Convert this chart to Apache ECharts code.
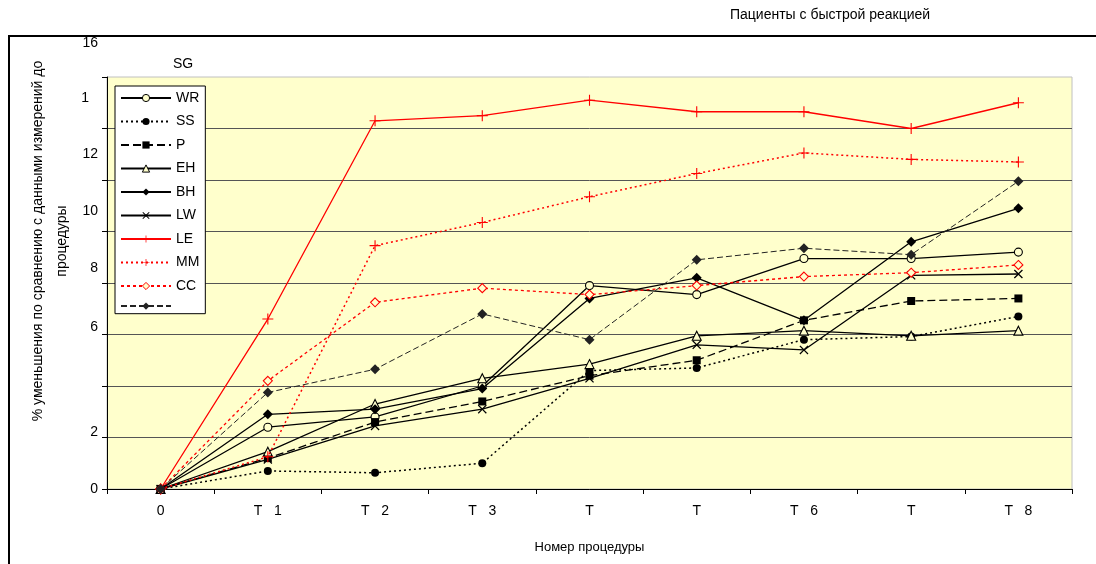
<!DOCTYPE html>
<html><head><meta charset="utf-8">
<script src="https://cdn.jsdelivr.net/npm/echarts@6/dist/echarts.min.js"></script>
<style>html,body{margin:0;padding:0;background:#fff}#c{width:1096px;height:564px}</style>
</head><body><div id="c"></div>
<script>
// ---- data ----
const categories = ['0','T1','T2','T3','T4','T5','T6','T7','T8'];
const xTickLabels = ['0','T   1','T   2','T   3','T','T','T   6','T','T   8'];
const yTickValues = [0,2,4,6,8,10,12,14,16];
const yTickLabels = ['0','2','','6','8','10','12','1','16'];
const seriesNames = ['WR','SS','P','EH','BH','LW','LE','MM','CC','SG'];
const WR = [0, 2.4, 2.8, 4.0, 7.9, 7.55, 8.95, 8.95, 9.2];
const SS = [0, 0.7, 0.63, 1.0, 4.6, 4.7, 5.8, 5.92, 6.7];
const P  = [0, 1.2, 2.6, 3.4, 4.4, 5.0, 6.55, 7.3, 7.4];
const EH = [0, 1.45, 3.3, 4.3, 4.85, 5.95, 6.15, 5.95, 6.15];
const BH = [0, 2.9, 3.1, 3.9, 7.4, 8.2, 6.55, 9.6, 10.9];
const LW = [0, 1.15, 2.45, 3.1, 4.3, 5.6, 5.4, 8.3, 8.35];
const LE = [0, 6.6, 14.3, 14.5, 15.1, 14.65, 14.65, 14.0, 15.0];
const MM = [0, 1.25, 9.45, 10.35, 11.35, 12.25, 13.05, 12.8, 12.7];
const CC = [0, 4.2, 7.25, 7.8, 7.55, 7.9, 8.25, 8.4, 8.7];
const SG = [0, 3.75, 4.65, 6.8, 5.8, 8.9, 9.35, 9.1, 11.95];
const seriesValues = [WR, SS, P, EH, BH, LW, LE, MM, CC, SG];
const titleText = 'Пациенты с быстрой реакцией';
const xAxisName = 'Номер процедуры';
const yAxisName = '% уменьшения по сравнению с данными измерений до\nпроцедуры';
const legendTitle = 'SG';

// ---- styles ----
const FONT = '"Liberation Sans", Arial, sans-serif';
const RED = '#ff0000';
const BG = '#ffffcc';
const PLUS = 'path://M4.5,0H5.5V4.5H10V5.5H5.5V10H4.5V5.5H0V4.5H4.5Z';
const CROSS = 'path://M0,1L1,0L5,4L9,0L10,1L6,5L10,9L9,10L5,6L1,10L0,9L4,5Z';
const styles = [
  {color:'#000', type:'solid', width:1.3, symbol:'circle', size:8, hollow:true},
  {color:'#000', type:[2,3], width:1.5, symbol:'circle', size:8},
  {color:'#000', type:[8,4], width:1.3, symbol:'rect', size:8},
  {color:'#000', type:'solid', width:1.3, symbol:'triangle', size:9, hollow:true},
  {color:'#000', type:'solid', width:1.3, symbol:'diamond', size:10},
  {color:'#000', type:'solid', width:1.3, symbol:CROSS, size:9},
  {color:RED, type:'solid', width:1.3, symbol:PLUS, size:11},
  {color:RED, type:[2,3], width:1.5, symbol:PLUS, size:11},
  {color:RED, type:[3,3], width:1.3, symbol:'diamond', size:9, hollow:true},
  {color:'#222', type:[6,3], width:1, symbol:'diamond', size:10}
];
// vertical shifts of y tick labels (as in the reference)
const yShift = {0:0, 2:5, 6:7, 8:15, 10:20, 12:26, 14:30, 16:34};
const yRich = {};
Object.keys(yShift).forEach(k => {
  yRich['s'+k] = {fontSize:14, fontFamily:FONT, color:'#000',
    padding:[0, k==='14'?9:0, 2*yShift[k], 0]};
});

const series = seriesNames.map((n, i) => {
  const s = styles[i];
  return {
    name: n, type: 'line', data: seriesValues[i],
    symbol: s.symbol, symbolSize: s.size, showAllSymbol: true,
    lineStyle: {color: s.color, width: s.width, type: s.type},
    itemStyle: s.hollow ? {color: BG, borderColor: s.color, borderWidth: 1.1}
                        : {color: s.color},
    emphasis: {disabled: true}, z: 2 + i
  };
});

const chart = echarts.init(document.getElementById('c'));
chart.setOption({
  animation: false,
  backgroundColor: '#fff',
  title: [
    {text: titleText, left: 730, top: 8, padding: 0,
     textStyle: {fontSize: 14, fontWeight: 'normal', color: '#000', fontFamily: FONT}},
    {text: legendTitle, left: 173, top: 57, padding: 0,
     textStyle: {fontSize: 14, fontWeight: 'normal', color: '#000', fontFamily: FONT}}
  ],
  grid: {left: 107, right: 24, top: 77, bottom: 75, containLabel: false, outerBoundsMode: 'none',
         show: true, backgroundColor: BG, borderColor: '#c0c0c0', borderWidth: 1},
  legend: {
    orient: 'vertical', left: 115, top: 86, padding: [5, 6, 4, 5],
    itemWidth: 50, itemHeight: 9, itemGap: 9.5,
    backgroundColor: '#fff', borderColor: '#000', borderWidth: 1,
    data: seriesNames,
    itemStyle: {borderWidth: 1},
    formatter: n => (n === legendTitle ? '' : n),
    textStyle: {fontSize: 14, fontFamily: FONT, color: '#000', lineHeight: 14}
  },
  xAxis: {
    type: 'category', data: categories, boundaryGap: true,
    axisLine: {lineStyle: {color: '#000', width: 1}},
    axisTick: {show: true, length: 5, lineStyle: {color: '#000'}},
    axisLabel: {interval: 0, margin: 15, fontSize: 14, fontFamily: FONT, color: '#000',
                formatter: (v, i) => xTickLabels[i]},
    name: xAxisName, nameLocation: 'middle', nameGap: 52,
    nameTextStyle: {fontSize: 13, fontFamily: FONT, color: '#000'}
  },
  yAxis: {
    type: 'value', min: 0, max: 16, interval: 2,
    axisLine: {show: true, lineStyle: {color: '#000', width: 1}},
    axisTick: {show: true, length: 5, lineStyle: {color: '#000'}},
    splitLine: {show: true, showMaxLine: false, lineStyle: {color: '#555', width: 1}},
    axisLabel: {margin: 9, fontSize: 14, fontFamily: FONT, color: '#000', rich: yRich,
      formatter: v => {
        const t = yTickLabels[yTickValues.indexOf(v)];
        return t ? '{s' + v + '|' + t + '}' : '';
      }}
  },
  graphic: [
    {type: 'rect', silent: true, z: -1,
     shape: {x: 9, y: 36, width: 1200, height: 700},
     style: {fill: 'none', stroke: '#000', lineWidth: 2}},
    {type: 'text', x: 50, y: 241, rotation: Math.PI / 2, silent: true,
     style: {text: yAxisName, fontSize: 14, fontFamily: FONT, fill: '#000',
             align: 'center', verticalAlign: 'middle', lineHeight: 24}}
  ],
  series: series
});
</script>
</body></html>
